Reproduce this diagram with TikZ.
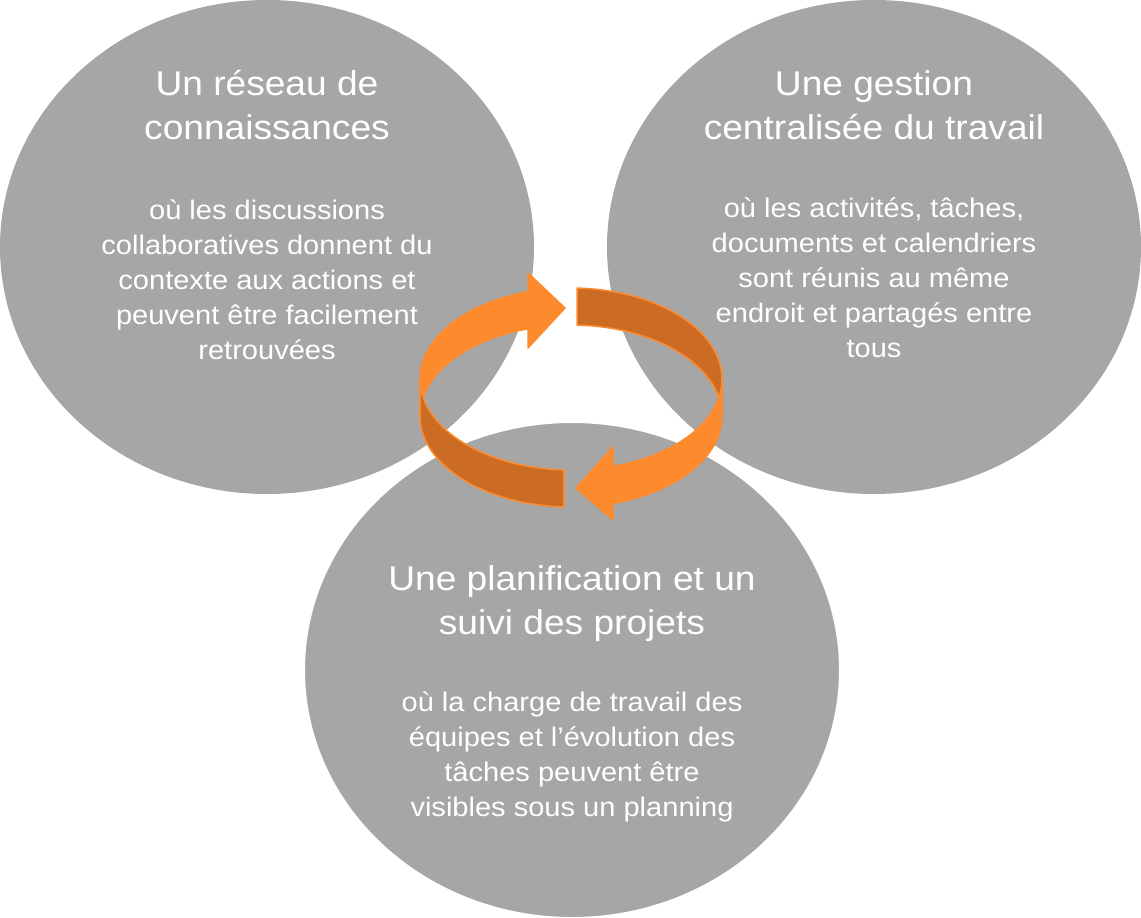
\documentclass[tikz,border=0pt]{standalone}
\usepackage{fontspec}
\setmainfont{Liberation Sans}[FakeStretch=1.08]
\usetikzlibrary{shapes.geometric}
\definecolor{blobgrey}{RGB}{166,166,166}
\definecolor{orlight}{RGB}{253,139,46}
\definecolor{ordark}{RGB}{204,108,36}
\tikzset{
  blob/.style={ellipse, fill=blobgrey, inner sep=0pt, minimum width=534bp, minimum height=494bp},
  ttl/.style={text=white, align=center, anchor=base, inner sep=0pt, font=\fontsize{34.5}{44}\selectfont},
  bdy/.style={text=white, align=center, anchor=base, inner sep=0pt, font=\fontsize{27}{35}\selectfont},
  ribbon/.style={draw=orlight, line width=1.5bp, line join=round},
}
\begin{document}
\begin{tikzpicture}[x=1bp, y=-1bp]
\useasboundingbox (0,0) rectangle (1141,918);
% grey ellipses
\node[blob] (left) at (267,247) {};
\node[blob] (right) at (874,247) {};
\node[blob, draw=white, line width=6bp, minimum width=540bp, minimum height=500bp] (bottom) at (572,670) {};
% ring arrows: top edge ellipse centre (571,379), bottom edge ellipse centre (571,416), radii 151 x 91
\def\cx{571}\def\cyt{379}\def\cyb{416}\def\rx{151}\def\ry{91}
% back right (dark)
\filldraw[ribbon, fill=ordark]
  plot[domain=87.7:0, samples=30, variable=\t] ({\cx+\rx*cos(\t)}, {\cyt-\ry*sin(\t)})
  -- plot[domain=0:87.7, samples=30, variable=\t] ({\cx+\rx*cos(\t)}, {\cyb-\ry*sin(\t)})
  -- cycle;
% back left (light) with head pointing right
\filldraw[ribbon, fill=orlight]
  plot[domain=180:106.5, samples=40, variable=\t] ({\cx+\rx*cos(\t)}, {\cyt-\ry*sin(\t)})
  -- (528,273) -- (565,308) -- (528,348)
  -- plot[domain=106.5:180, samples=40, variable=\t] ({\cx+\rx*cos(\t)}, {\cyb-\ry*sin(\t)})
  -- cycle;
% front left (dark)
\filldraw[ribbon, fill=ordark]
  plot[domain=180:267.3, samples=40, variable=\t] ({\cx+\rx*cos(\t)}, {\cyt-\ry*sin(\t)})
  -- plot[domain=267.3:180, samples=40, variable=\t] ({\cx+\rx*cos(\t)}, {\cyb-\ry*sin(\t)})
  -- cycle;
% front right (light) with head pointing left
\filldraw[ribbon, fill=orlight]
  plot[domain=360:286.1, samples=40, variable=\t] ({\cx+\rx*cos(\t)}, {\cyt-\ry*sin(\t)})
  -- (613,447) -- (576,488) -- (613,520)
  -- plot[domain=286.1:360, samples=40, variable=\t] ({\cx+\rx*cos(\t)}, {\cyb-\ry*sin(\t)})
  -- cycle;
% texts (anchor = baseline of the last line)
\node[ttl] (lt) at (267,139) {Un réseau de\\connaissances};
\node[bdy] (lb) at (267,359) {où les discussions\\collaboratives donnent du\\contexte aux actions et\\peuvent être facilement\\retrouvées};
\node[ttl] (rt) at (874,139) {Une gestion\\centralisée du travail};
\node[bdy] (rb) at (874,357) {où les activités, tâches,\\documents et calendriers\\sont réunis au même\\endroit et partagés entre\\tous};
\node[ttl] (bt) at (572,634) {Une planification et un\\suivi des projets};
\node[bdy] (bb) at (572,816) {où la charge de travail des\\équipes et l’évolution des\\tâches peuvent être\\visibles sous un planning};
\end{tikzpicture}
\end{document}
